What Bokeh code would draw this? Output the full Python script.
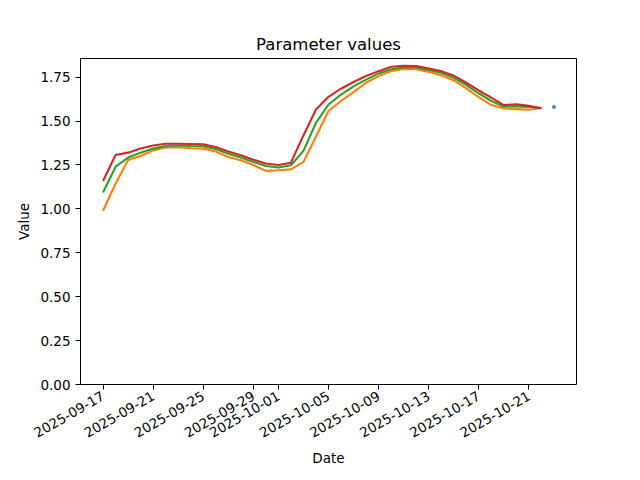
import math
import pandas as pd
from bokeh.plotting import figure
from bokeh.models import FixedTicker, DatetimeTickFormatter, NumeralTickFormatter, Range1d
from bokeh.embed import file_html
from bokeh.resources import INLINE

start_date = "2025-09-17"
n_days = 36
red_vals = [1.159, 1.307, 1.320, 1.343, 1.361, 1.371, 1.371, 1.369, 1.367, 1.352,
            1.327, 1.305, 1.280, 1.258, 1.250, 1.263, 1.418, 1.566, 1.638, 1.684,
            1.722, 1.756, 1.784, 1.809, 1.814, 1.813, 1.799, 1.784, 1.759, 1.718,
            1.674, 1.633, 1.591, 1.595, 1.587, 1.572]
green_vals = [1.093, 1.240, 1.292, 1.320, 1.343, 1.358, 1.361, 1.358, 1.356, 1.341,
              1.314, 1.292, 1.267, 1.244, 1.235, 1.248, 1.330, 1.490, 1.594, 1.651,
              1.697, 1.736, 1.771, 1.795, 1.805, 1.805, 1.790, 1.775, 1.746, 1.705,
              1.657, 1.614, 1.583, 1.583, 1.580, 1.574]
orange_vals = [0.989, 1.143, 1.278, 1.301, 1.333, 1.349, 1.351, 1.345, 1.343, 1.326,
               1.295, 1.277, 1.250, 1.216, 1.220, 1.225, 1.267, 1.412, 1.557, 1.614,
               1.665, 1.718, 1.756, 1.784, 1.797, 1.795, 1.780, 1.761, 1.731, 1.686,
               1.636, 1.591, 1.572, 1.568, 1.564, 1.574]
blue_dates = ["2025-10-23"]
blue_vals = [1.580]
tick_dates = ["2025-09-17", "2025-09-21", "2025-09-25", "2025-09-29", "2025-10-01",
              "2025-10-05", "2025-10-09", "2025-10-13", "2025-10-17", "2025-10-21"]
y_ticks = [0.0, 0.25, 0.5, 0.75, 1.0, 1.25, 1.5, 1.75]

dates = pd.date_range(start_date, periods=n_days)
bdates = pd.to_datetime(blue_dates)

day = 86400000.0
x0 = pd.Timestamp(start_date).value / 1e6
span = 36 * day
x_range = Range1d(x0 - 0.05 * span, x0 + 1.05 * span)

FONT = "DejaVu Sans"
p = figure(width=624, height=470, x_axis_type="datetime", output_backend="svg",
           toolbar_location=None, x_range=x_range, y_range=Range1d(0, 1.856),
           title="Parameter values", min_border_left=80, min_border_right=48,
           min_border_top=58, min_border_bottom=86)

p.line(bdates, blue_vals, line_color="#1f77b4", line_width=2)
p.scatter(bdates, blue_vals, marker="square", size=2.5, color="#1f77b4", alpha=0.8)
p.line(dates, orange_vals, line_color="#ff7f0e", line_width=2.1)
p.line(dates, green_vals, line_color="#2ca02c", line_width=2.1)
p.line(dates, red_vals, line_color="#d62728", line_width=2.1)

p.xgrid.visible = False
p.ygrid.visible = False
p.outline_line_color = "black"
p.outline_line_alpha = 1
p.outline_line_width = 1

p.title.text_font = FONT
p.title.text_font_size = "16.5px"
p.title.text_font_style = "normal"
p.title.text_color = "black"
p.title.align = "center"

ticks_ms = [pd.Timestamp(d).value / 1e6 for d in tick_dates]
p.xaxis.ticker = FixedTicker(ticks=ticks_ms)
p.xaxis.formatter = DatetimeTickFormatter(days="%Y-%m-%d", months="%Y-%m-%d",
                                          hours="%Y-%m-%d")
p.xaxis.major_label_orientation = math.pi / 6
p.yaxis.ticker = FixedTicker(ticks=y_ticks)
p.yaxis.formatter = NumeralTickFormatter(format="0.00")

for ax in (p.xaxis, p.yaxis):
    ax.axis_line_color = None
    ax.major_tick_line_color = "black"
    ax.major_tick_out = 5
    ax.major_tick_in = 0
    ax.minor_tick_line_color = None
    ax.major_label_text_font = FONT
    ax.major_label_text_font_size = "13.5px"
    ax.major_label_text_color = "black"
    ax.axis_label_text_font = FONT
    ax.axis_label_text_font_size = "13.5px"
    ax.axis_label_text_font_style = "normal"
    ax.axis_label_text_color = "black"
    ax.major_label_standoff = 5

p.xaxis.axis_label = "Date"
p.yaxis.axis_label = "Value"

open("out.html", "w").write(file_html(p, INLINE))
